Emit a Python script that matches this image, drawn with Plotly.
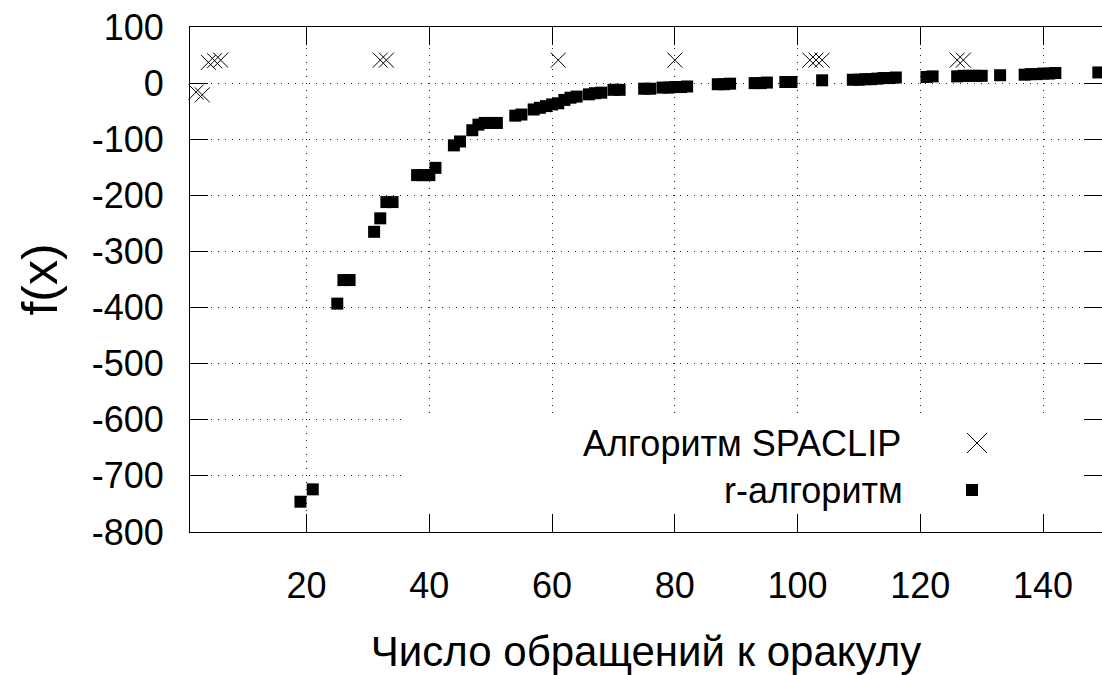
import plotly.graph_objects as go

# ---- data ----
r_x = [19, 21, 25, 26, 27, 31, 32, 33, 34, 38, 39, 40, 41, 44, 45, 47, 48, 49, 50, 51,
       54, 55, 57, 58, 59, 60, 61, 62, 63, 64, 66, 67, 68, 70, 71, 75, 76, 78, 79, 80,
       81, 82, 87, 88, 89, 93, 94, 95, 98, 99, 104, 109, 110, 111, 112, 113, 114, 115,
       116, 121, 122, 126, 127, 128, 129, 130, 133, 137, 138, 139, 140, 141, 142, 149]
r_y = [-746, -724, -393, -351, -351, -265, -241, -212, -212, -164, -164, -164, -151,
       -111, -104, -84, -74, -71, -71, -71, -58, -56, -47, -44, -41, -38, -36, -30,
       -26, -24, -20, -18, -17, -12, -12, -10, -10, -8, -8, -7, -7, -6, -2, -2, -1,
       0, 0, 1, 2, 2, 5, 6, 6, 7, 7, 8, 9, 9, 10, 11, 12, 12, 13, 13, 13, 13, 14,
       15, 16, 16, 17, 17, 18, 19]

s_x = [2, 3, 4, 5, 6, 32, 33, 61, 80, 102, 103, 104, 126, 127]
s_y = [-16, -21, 37, 40, 41, 41, 41, 41, 41, 41, 41, 41, 41, 41]

x_ticks = [20, 40, 60, 80, 100, 120, 140]
x_labels = ["20", "40", "60", "80", "100", "120", "140"]
y_ticks = [100, 0, -100, -200, -300, -400, -500, -600, -700, -800]
y_labels = ["100", "0", "-100", "-200", "-300", "-400", "-500", "-600", "-700", "-800"]

name_s = "Алгоритм SPACLIP"
name_r = "r-алгоритм"
x_title = "Число обращений к оракулу"
y_title = "f(x)"

FONT = "Liberation Sans, Arial, sans-serif"

fig = go.Figure()
fig.add_trace(go.Scatter(
    x=s_x, y=s_y, mode="markers", name=name_s, cliponaxis=False,
    marker=dict(symbol="x-thin-open", size=15, color="black",
                line=dict(width=1, color="black"))))
fig.add_trace(go.Scatter(
    x=r_x, y=r_y, mode="markers", name=name_r, cliponaxis=False,
    marker=dict(symbol="square", size=12, color="black", line=dict(width=0))))

L, R, T, B = 190, 0, 27, 143
W, H = 1102, 675
pw, ph = W - L - R, H - T - B

def px(xp):
    return (xp - L) / pw

def py(yp):
    return (H - B - yp) / ph

shapes = [
    # legend background blanking the grid
    dict(type="rect", xref="x", yref="y", x0=36, x1=151, y0=-797, y1=-593,
         fillcolor="white", line=dict(width=0), layer="between"),
    # legend key: cross
    dict(type="line", xref="paper", yref="paper", xsizemode="pixel", ysizemode="pixel",
         xanchor=px(977), yanchor=py(443), x0=-10, x1=10, y0=-10, y1=10,
         line=dict(color="black", width=1)),
    dict(type="line", xref="paper", yref="paper", xsizemode="pixel", ysizemode="pixel",
         xanchor=px(977), yanchor=py(443), x0=-10, x1=10, y0=10, y1=-10,
         line=dict(color="black", width=1)),
    # legend key: square
    dict(type="rect", xref="paper", yref="paper", xsizemode="pixel", ysizemode="pixel",
         xanchor=px(972), yanchor=py(490), x0=-6, x1=6, y0=-6, y1=6,
         fillcolor="black", line=dict(width=0)),
]

annotations = [
    dict(text=name_s, xref="paper", yref="paper", x=px(903), y=py(443),
         xanchor="right", yanchor="middle", showarrow=False,
         font=dict(family=FONT, size=36, color="black")),
    dict(text=name_r, xref="paper", yref="paper", x=px(905), y=py(490),
         xanchor="right", yanchor="middle", showarrow=False,
         font=dict(family=FONT, size=36, color="black")),
]

GRID_DASH = "1px,6px"

fig.update_layout(
    width=W, height=H,
    margin=dict(l=L, r=R, t=T, b=B, pad=0),
    paper_bgcolor="white", plot_bgcolor="white",
    showlegend=False,
    font=dict(family=FONT, size=36, color="black"),
    shapes=shapes, annotations=annotations,
    xaxis=dict(
        range=[1, 149.6], tickmode="array", tickvals=x_ticks, ticktext=x_labels,
        ticks="inside", ticklen=18, tickwidth=1, tickcolor="black",
        showline=True, linecolor="black", linewidth=1, mirror="ticks",
        showgrid=True, gridcolor="#222", griddash=GRID_DASH, gridwidth=1,
        zeroline=False, tickfont=dict(size=36), ticklabelstandoff=22,
        title=dict(text=x_title, font=dict(size=42), standoff=40),
    ),
    yaxis=dict(
        range=[-800, 100], tickmode="array", tickvals=y_ticks,
        ticktext=[t + "\u2002" for t in y_labels],
        ticks="inside", ticklen=18, tickwidth=1, tickcolor="black",
        showline=True, linecolor="black", linewidth=1, mirror="ticks",
        showgrid=True, gridcolor="#222", griddash=GRID_DASH, gridwidth=1,
        zeroline=False, tickfont=dict(size=36),
        title=dict(text=y_title, font=dict(size=50), standoff=18),
    ),
)

fig.write_html("out.html")
